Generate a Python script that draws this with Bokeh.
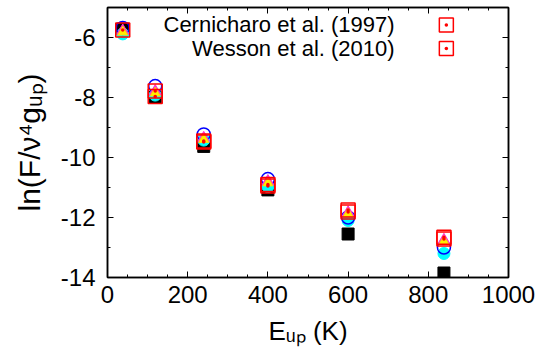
from bokeh.plotting import figure
from bokeh.models import LinearAxis, FixedTicker, Label, Range1d
from bokeh.embed import file_html
from bokeh.resources import INLINE

# CH+ rotational diagram: upper-level energy (K) vs ln(F / nu^4 g_up)
e_up_k = [38, 119, 240, 400, 600, 839]

# observed fluxes
cernicharo_e_up = [119, 240, 400, 600, 839]
cernicharo_1997 = [-7.78, -9.45, -10.90, -11.75, -12.66]
wesson_2010 = [-5.75, -7.97, -9.48, -10.95, -11.82, -12.72]

# model predictions
model_black = [-5.72, -8.00, -9.63, -11.08, -12.55, -13.85]
model_cyan = [-5.88, -7.92, -9.42, -10.97, -12.10, -13.20]
model_blue = [-5.68, -7.62, -9.23, -10.72, -12.00, -13.00]
model_magenta = [-5.78, -7.80, -9.36, -10.80, -11.84, -12.76]
model_yellow = [-5.82, -7.85, -9.40, -10.85, -11.88, -12.80]

x_ticks = [0, 200, 400, 600, 800, 1000]
y_ticks = [-14, -12, -10, -8, -6]
y_tick_labels = ["-14", "-12", "-10", "-8", "-6"]
legend_labels = ["Cernicharo et al. (1997)", "Wesson et al. (2010)"]
x_title = "E\u1d64\u209a (K)"
y_title = "ln(F/\u03bd\u2074g\u1d64\u209a)"

FONT = "Liberation Sans"
TICK_FS = 24
KEY_FS = 22
XT_FS = 26
YT_FS = 30

p = figure(width=540, height=351, output_backend="svg", toolbar_location=None,
           title=None, x_range=Range1d(0, 1000), y_range=Range1d(-14, -5),
           min_border_left=107, min_border_right=32,
           min_border_top=7, min_border_bottom=74)
p.grid.visible = False
p.background_fill_color = "white"
p.border_fill_color = "white"
p.outline_line_color = "black"
p.outline_line_width = 1.5

xt = FixedTicker(ticks=x_ticks, minor_ticks=list(range(0, 1001, 50)))
yt = FixedTicker(ticks=y_ticks, minor_ticks=list(range(-14, -4)))


def style_axis(ax, show_labels):
    ax.axis_line_color = "black"
    ax.axis_line_width = 1.5
    ax.major_tick_in = 6
    ax.major_tick_out = 0
    ax.minor_tick_in = 3
    ax.minor_tick_out = 0
    ax.major_tick_line_color = "black"
    ax.minor_tick_line_color = "black"
    ax.major_tick_line_width = 1
    ax.major_label_text_font = FONT
    ax.major_label_text_color = "black"
    ax.axis_label_text_font = FONT
    ax.axis_label_text_font_style = "normal"
    ax.axis_label_text_color = "black"
    if show_labels:
        ax.major_label_text_font_size = f"{TICK_FS}px"
    else:
        ax.major_label_text_font_size = "1px"
        ax.major_label_standoff = 0


p.xaxis.ticker = xt
p.yaxis.ticker = yt
style_axis(p.xaxis[0], True)
style_axis(p.yaxis[0], True)
p.xaxis.major_label_standoff = 8
p.yaxis.major_label_standoff = 12
p.yaxis.major_label_overrides = dict(zip(y_ticks, y_tick_labels))

p.xaxis.axis_label = x_title
p.xaxis.axis_label_text_font_size = f"{XT_FS}px"
p.xaxis.axis_label_standoff = 10
p.yaxis.axis_label = y_title
p.yaxis.axis_label_text_font_size = f"{YT_FS}px"
p.yaxis.axis_label_standoff = 12

top_axis = LinearAxis(ticker=xt, major_label_overrides={t: "" for t in x_ticks})
right_axis = LinearAxis(ticker=yt, major_label_overrides={t: "" for t in y_ticks})
style_axis(top_axis, False)
style_axis(right_axis, False)
p.add_layout(top_axis, "above")
p.add_layout(right_axis, "right")

# model points, drawn underneath the observations
p.scatter(e_up_k, model_black, marker="square", size=12, fill_color="black", line_color="black")
p.scatter(e_up_k, model_cyan, marker="circle", size=12, fill_color="cyan", line_color="cyan")
p.scatter(e_up_k, model_blue, marker="circle", size=13, fill_color=None, line_color="blue", line_width=1.5)
p.scatter(e_up_k, model_magenta, marker="triangle", size=12, fill_color="#ff33cc", line_color="#ff33cc")
p.scatter(e_up_k, model_yellow, marker="triangle", size=10, fill_color="#ffee00", line_color="#ffdd00")

# observations
p.scatter(cernicharo_e_up, cernicharo_1997, marker="square_dot", size=14,
          fill_color=None, line_color="red", line_width=1.5)
p.scatter(e_up_k, wesson_2010, marker="square_dot", size=14,
          fill_color=None, line_color="red", line_width=1.5)

# key, text to the left of its symbol
key_x_text = 716
key_x_mark = 845
key_y = [-5.58, -6.37]
for lab_text, ky in zip(legend_labels, key_y):
    p.add_layout(Label(x=key_x_text, y=ky, text=lab_text, text_align="right",
                       text_baseline="middle", text_font=FONT,
                       text_font_size=f"{KEY_FS}px", text_color="black"))
p.scatter([key_x_mark, key_x_mark], key_y, marker="square_dot", size=14,
          fill_color=None, line_color="red", line_width=1.5)

open("out.html", "w").write(file_html(p, INLINE))
